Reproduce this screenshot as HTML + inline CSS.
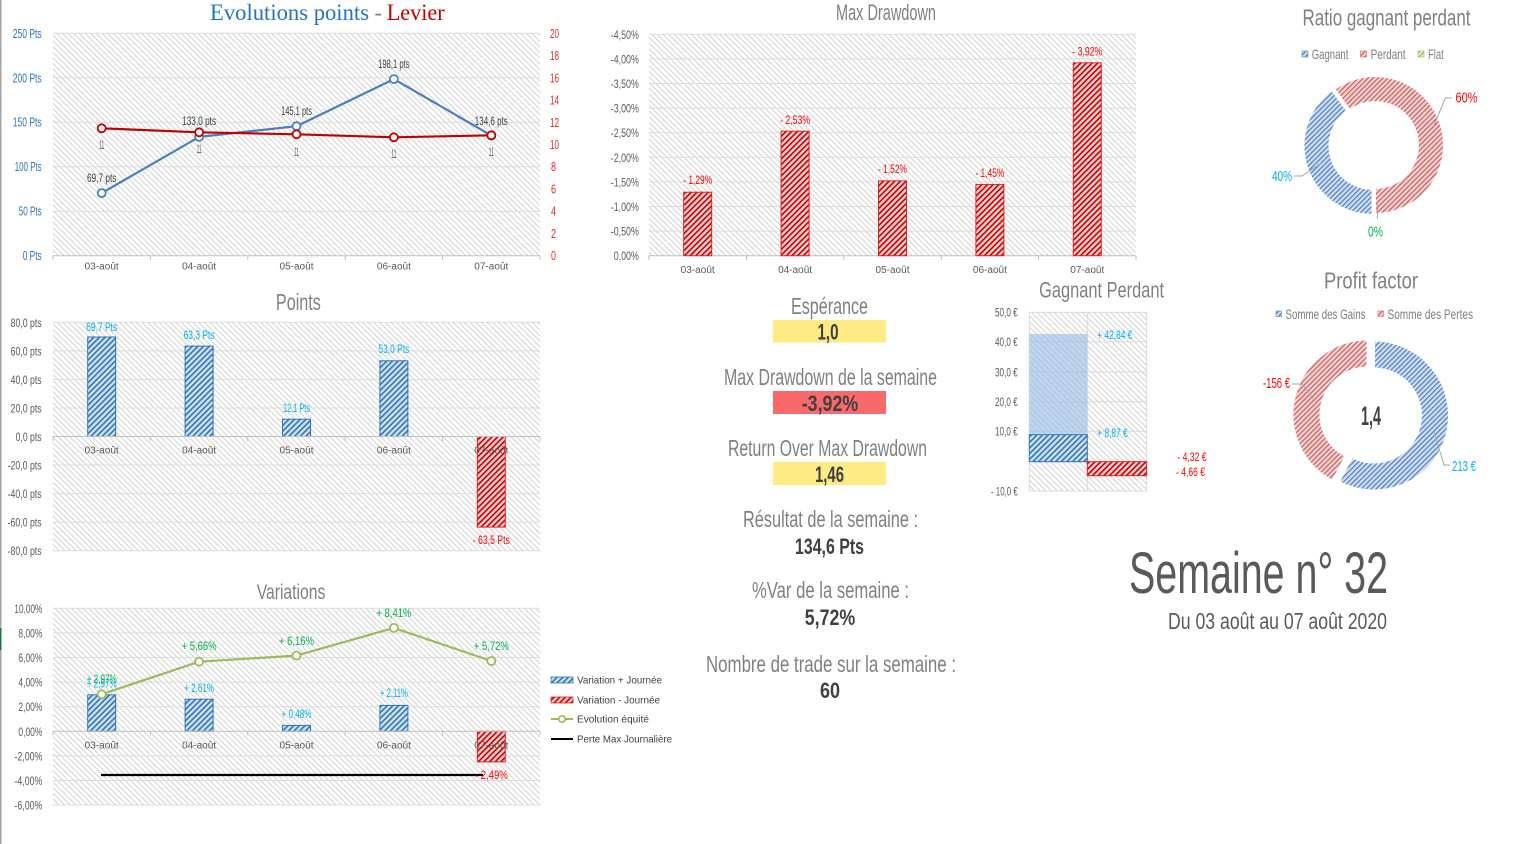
<!DOCTYPE html>
<html><head><meta charset="utf-8"><style>
body{margin:0;background:#fff}
svg{display:block}
text{font-family:"Liberation Sans Narrow","Liberation Sans",sans-serif}
.c{font-family:"Liberation Sans",sans-serif}
.s{font-family:"Liberation Serif",serif}
</style></head><body>
<svg width="1527" height="844" viewBox="0 0 1527 844" xmlns="http://www.w3.org/2000/svg">
<defs>
<pattern id="bg" width="4" height="4" patternUnits="userSpaceOnUse" patternTransform="rotate(-45)"><rect width="4" height="4" fill="#fff"/><rect width="1" height="4" fill="#d2d2d2"/></pattern>
<pattern id="pb" width="4" height="4" patternUnits="userSpaceOnUse" patternTransform="rotate(45)"><rect width="4" height="4" fill="#cfe1f4"/><rect width="1.6" height="4" fill="#2e75b6"/></pattern>
<pattern id="pr" width="4" height="4" patternUnits="userSpaceOnUse" patternTransform="rotate(45)"><rect width="4" height="4" fill="#f6cfcf"/><rect width="1.6" height="4" fill="#c00000"/></pattern>
<pattern id="db" width="3.5" height="3.5" patternUnits="userSpaceOnUse" patternTransform="rotate(45)"><rect width="3.5" height="3.5" fill="#d3dff1"/><rect width="1.3" height="3.5" fill="#5483c6"/></pattern>
<pattern id="dr" width="3.5" height="3.5" patternUnits="userSpaceOnUse" patternTransform="rotate(45)"><rect width="3.5" height="3.5" fill="#f2d6d6"/><rect width="1.3" height="3.5" fill="#cc6262"/></pattern>
<pattern id="dg" width="3.5" height="3.5" patternUnits="userSpaceOnUse" patternTransform="rotate(45)"><rect width="3.5" height="3.5" fill="#e6efd6"/><rect width="1.3" height="3.5" fill="#9bbb59"/></pattern>
</defs>

<!-- left border -->
<rect x="0" y="0" width="1.5" height="844" fill="#a6a6a6"/>
<rect x="0" y="628" width="1.5" height="22" fill="#217346"/>

<!-- ========== Chart 1 : Evolutions points - Levier ========== -->
<text class="s" x="210" y="20" font-size="23" fill="#2373c4" textLength="159" lengthAdjust="spacingAndGlyphs">Evolutions points</text>
<text class="s" x="374.5" y="20" font-size="23" fill="#7f7f7f" textLength="7.5" lengthAdjust="spacingAndGlyphs">-</text>
<text class="s" x="386.7" y="20" font-size="23" fill="#c00000" textLength="58" lengthAdjust="spacingAndGlyphs">Levier</text>

<rect x="53" y="33.3" width="487" height="222.4" fill="url(#bg)"/>
<g stroke="#dcdcdc" stroke-width="1">
<line x1="53" y1="33.3" x2="540" y2="33.3"/><line x1="53" y1="77.8" x2="540" y2="77.8"/><line x1="53" y1="122.2" x2="540" y2="122.2"/><line x1="53" y1="166.7" x2="540" y2="166.7"/><line x1="53" y1="211.2" x2="540" y2="211.2"/>
</g>
<g stroke="#bfbfbf" stroke-width="1">
<line x1="53" y1="255.7" x2="540" y2="255.7"/>
<line x1="53" y1="255.7" x2="53" y2="260"/><line x1="150.4" y1="255.7" x2="150.4" y2="260"/><line x1="247.8" y1="255.7" x2="247.8" y2="260"/><line x1="345.2" y1="255.7" x2="345.2" y2="260"/><line x1="442.6" y1="255.7" x2="442.6" y2="260"/><line x1="540" y1="255.7" x2="540" y2="260"/>
</g>
<g font-size="12.5" fill="#2e75b6" text-anchor="end">
<text x="41.7" y="37.8" textLength="29" lengthAdjust="spacingAndGlyphs">250 Pts</text>
<text x="41.7" y="82.3" textLength="29" lengthAdjust="spacingAndGlyphs">200 Pts</text>
<text x="41.7" y="126.7" textLength="29" lengthAdjust="spacingAndGlyphs">150 Pts</text>
<text x="41.7" y="171.2" textLength="27" lengthAdjust="spacingAndGlyphs">100 Pts</text>
<text x="41.7" y="215.7" textLength="23" lengthAdjust="spacingAndGlyphs">50 Pts</text>
<text x="41.7" y="260.2" textLength="19" lengthAdjust="spacingAndGlyphs">0 Pts</text>
</g>
<g font-size="12.5" fill="#e02b2b">
<text x="550" y="37.8" textLength="9" lengthAdjust="spacingAndGlyphs">20</text>
<text x="550" y="60" textLength="9" lengthAdjust="spacingAndGlyphs">18</text>
<text x="550" y="82.3" textLength="9" lengthAdjust="spacingAndGlyphs">16</text>
<text x="550" y="104.5" textLength="9" lengthAdjust="spacingAndGlyphs">14</text>
<text x="550" y="126.8" textLength="9" lengthAdjust="spacingAndGlyphs">12</text>
<text x="550" y="149" textLength="9" lengthAdjust="spacingAndGlyphs">10</text>
<text x="551" y="171.2" textLength="5" lengthAdjust="spacingAndGlyphs">8</text>
<text x="551" y="193.5" textLength="5" lengthAdjust="spacingAndGlyphs">6</text>
<text x="551" y="215.7" textLength="5" lengthAdjust="spacingAndGlyphs">4</text>
<text x="551" y="238" textLength="5" lengthAdjust="spacingAndGlyphs">2</text>
<text x="551" y="260.2" textLength="5" lengthAdjust="spacingAndGlyphs">0</text>
</g>
<polyline points="101.7,193.1 199.1,136.9 296.5,126.2 393.9,79.1 491.3,135.5" fill="none" stroke="#4a7ebf" stroke-width="2.2" stroke-linejoin="round"/>
<g fill="#fff" stroke="#4a7ebf" stroke-width="1.8">
<circle cx="101.7" cy="193.1" r="4"/><circle cx="199.1" cy="136.9" r="4"/><circle cx="296.5" cy="126.2" r="4"/><circle cx="393.9" cy="79.1" r="4"/><circle cx="491.3" cy="135.5" r="4"/>
</g>
<polyline points="101.7,128.3 199.1,132.3 296.5,134.3 393.9,137.3 491.3,135.3" fill="none" stroke="#c00000" stroke-width="2.2" stroke-linejoin="round"/>
<g fill="#fff" stroke="#c00000" stroke-width="1.8">
<circle cx="101.7" cy="128.3" r="4"/><circle cx="199.1" cy="132.3" r="4"/><circle cx="296.5" cy="134.3" r="4"/><circle cx="393.9" cy="137.3" r="4"/><circle cx="491.3" cy="135.3" r="4"/>
</g>
<g font-size="12" fill="#595959" text-anchor="middle">
<text x="101.7" y="149" textLength="5" lengthAdjust="spacingAndGlyphs">11</text>
<text x="199.1" y="153" textLength="5" lengthAdjust="spacingAndGlyphs">11</text>
<text x="296.5" y="156" textLength="5" lengthAdjust="spacingAndGlyphs">11</text>
<text x="393.9" y="158" textLength="5" lengthAdjust="spacingAndGlyphs">11</text>
<text x="491.3" y="156" textLength="5" lengthAdjust="spacingAndGlyphs">11</text>
</g>
<g font-size="11.5" fill="#404040" text-anchor="middle">
<text x="101.7" y="182" textLength="29.5" lengthAdjust="spacingAndGlyphs">69,7 pts</text>
<text x="199.1" y="125" textLength="34" lengthAdjust="spacingAndGlyphs">133,0 pts</text>
<text x="296.5" y="115" textLength="31" lengthAdjust="spacingAndGlyphs">145,1 pts</text>
<text x="393.9" y="68" textLength="31.5" lengthAdjust="spacingAndGlyphs">198,1 pts</text>
<text x="491.3" y="125" textLength="33" lengthAdjust="spacingAndGlyphs">134,6 pts</text>
</g>
<g class="c" font-size="10" fill="#595959" text-anchor="middle">
<text class="c" x="101.7" y="269.3" textLength="34" lengthAdjust="spacingAndGlyphs">03-août</text>
<text class="c" x="199.1" y="269.3" textLength="34" lengthAdjust="spacingAndGlyphs">04-août</text>
<text class="c" x="296.5" y="269.3" textLength="34" lengthAdjust="spacingAndGlyphs">05-août</text>
<text class="c" x="393.9" y="269.3" textLength="34" lengthAdjust="spacingAndGlyphs">06-août</text>
<text class="c" x="491.3" y="269.3" textLength="34" lengthAdjust="spacingAndGlyphs">07-août</text>
</g>

<!-- ========== Chart 2 : Max Drawdown ========== -->
<text x="886" y="20" font-size="22" fill="#808080" text-anchor="middle" textLength="100" lengthAdjust="spacingAndGlyphs">Max Drawdown</text>
<rect x="649" y="34.3" width="487" height="221.4" fill="url(#bg)"/>
<g stroke="#dcdcdc" stroke-width="1">
<line x1="649" y1="34.3" x2="1136" y2="34.3"/><line x1="649" y1="58.9" x2="1136" y2="58.9"/><line x1="649" y1="83.5" x2="1136" y2="83.5"/><line x1="649" y1="108.1" x2="1136" y2="108.1"/><line x1="649" y1="132.7" x2="1136" y2="132.7"/><line x1="649" y1="157.3" x2="1136" y2="157.3"/><line x1="649" y1="181.9" x2="1136" y2="181.9"/><line x1="649" y1="206.5" x2="1136" y2="206.5"/><line x1="649" y1="231.1" x2="1136" y2="231.1"/>
</g>
<g stroke="#bfbfbf" stroke-width="1">
<line x1="649" y1="255.7" x2="1136" y2="255.7"/>
<line x1="649" y1="255.7" x2="649" y2="260"/><line x1="746.4" y1="255.7" x2="746.4" y2="260"/><line x1="843.8" y1="255.7" x2="843.8" y2="260"/><line x1="941.2" y1="255.7" x2="941.2" y2="260"/><line x1="1038.6" y1="255.7" x2="1038.6" y2="260"/><line x1="1136" y1="255.7" x2="1136" y2="260"/>
</g>
<g font-size="11.5" fill="#595959" text-anchor="end">
<text x="638.8" y="38.8" textLength="28" lengthAdjust="spacingAndGlyphs">-4,50%</text>
<text x="638.8" y="63.4" textLength="28" lengthAdjust="spacingAndGlyphs">-4,00%</text>
<text x="638.8" y="88" textLength="28" lengthAdjust="spacingAndGlyphs">-3,50%</text>
<text x="638.8" y="112.6" textLength="28" lengthAdjust="spacingAndGlyphs">-3,00%</text>
<text x="638.8" y="137.2" textLength="28" lengthAdjust="spacingAndGlyphs">-2,50%</text>
<text x="638.8" y="161.8" textLength="28" lengthAdjust="spacingAndGlyphs">-2,00%</text>
<text x="638.8" y="186.4" textLength="28" lengthAdjust="spacingAndGlyphs">-1,50%</text>
<text x="638.8" y="211" textLength="28" lengthAdjust="spacingAndGlyphs">-1,00%</text>
<text x="638.8" y="235.6" textLength="28" lengthAdjust="spacingAndGlyphs">-0,50%</text>
<text x="638.8" y="260.2" textLength="25" lengthAdjust="spacingAndGlyphs">0,00%</text>
</g>
<g fill="url(#pr)" stroke="#e02020" stroke-width="1">
<rect x="683.7" y="192.2" width="28" height="63.5"/>
<rect x="781.1" y="131.2" width="28" height="124.5"/>
<rect x="878.5" y="180.9" width="28" height="74.8"/>
<rect x="975.9" y="184.4" width="28" height="71.3"/>
<rect x="1073.3" y="62.8" width="28" height="192.9"/>
</g>
<g font-size="11.5" fill="#ff0000" text-anchor="middle">
<text x="697.7" y="184" textLength="29" lengthAdjust="spacingAndGlyphs">- 1,29%</text>
<text x="795.1" y="124" textLength="30" lengthAdjust="spacingAndGlyphs">- 2,53%</text>
<text x="892.5" y="173" textLength="29" lengthAdjust="spacingAndGlyphs">- 1,52%</text>
<text x="989.9" y="177" textLength="29" lengthAdjust="spacingAndGlyphs">- 1,45%</text>
<text x="1087.3" y="55.6" textLength="30" lengthAdjust="spacingAndGlyphs">- 3,92%</text>
</g>
<g font-size="10" fill="#595959" text-anchor="middle">
<text class="c" x="697.7" y="273" textLength="34" lengthAdjust="spacingAndGlyphs">03-août</text>
<text class="c" x="795.1" y="273" textLength="34" lengthAdjust="spacingAndGlyphs">04-août</text>
<text class="c" x="892.5" y="273" textLength="34" lengthAdjust="spacingAndGlyphs">05-août</text>
<text class="c" x="989.9" y="273" textLength="34" lengthAdjust="spacingAndGlyphs">06-août</text>
<text class="c" x="1087.3" y="273" textLength="34" lengthAdjust="spacingAndGlyphs">07-août</text>
</g>

<!-- ========== Chart 3 : Ratio gagnant perdant ========== -->
<text x="1386.5" y="25.3" font-size="23" fill="#808080" text-anchor="middle" textLength="168" lengthAdjust="spacingAndGlyphs">Ratio gagnant perdant</text>
<rect x="1302" y="51" width="6" height="6" fill="url(#db)" stroke="#5b87c9" stroke-width="0.6"/>
<text x="1311.7" y="59" font-size="14" fill="#7f7f7f" textLength="36.7" lengthAdjust="spacingAndGlyphs">Gagnant</text>
<rect x="1360.5" y="51" width="6" height="6" fill="url(#dr)" stroke="#cf6b6b" stroke-width="0.6"/>
<text x="1370.6" y="59" font-size="14" fill="#7f7f7f" textLength="35" lengthAdjust="spacingAndGlyphs">Perdant</text>
<rect x="1418" y="51" width="6" height="6" fill="url(#dg)" stroke="#9bbb59" stroke-width="0.6"/>
<text x="1428" y="59" font-size="14" fill="#7f7f7f" textLength="15.8" lengthAdjust="spacingAndGlyphs">Flat</text>

<path d="M1375,214 A69,69 0 0 1 1334.44,89.18 L1349.72,110.21 A43,43 0 0 0 1375,188 Z" transform="translate(-2.5,0.8)" fill="url(#db)" stroke="#fff" stroke-width="2"/>
<path d="M1334.44,89.18 A69,69 0 1 1 1375,214 L1375,188 A43,43 0 1 0 1349.72,110.21 Z" fill="url(#dr)" stroke="#fff" stroke-width="2"/>
<g fill="none" stroke="#a6a6a6" stroke-width="1">
<polyline points="1433.6,126 1445.4,98 1452,98"/>
<polyline points="1294,176 1302,176 1320.8,163.3"/>
<line x1="1377.4" y1="202" x2="1377.4" y2="219"/>
</g>
<text x="1455.5" y="102.7" font-size="14.5" fill="#ff0000" textLength="22" lengthAdjust="spacingAndGlyphs">60%</text>
<text x="1272" y="181" font-size="14.5" fill="#00b0f0" textLength="20" lengthAdjust="spacingAndGlyphs">40%</text>
<text x="1368" y="236.4" font-size="14.5" fill="#00b050" textLength="15" lengthAdjust="spacingAndGlyphs">0%</text>

<!-- ========== Chart 4 : Profit factor ========== -->
<text x="1371" y="288.7" font-size="23" fill="#808080" text-anchor="middle" textLength="94" lengthAdjust="spacingAndGlyphs">Profit factor</text>
<rect x="1276" y="311" width="5.5" height="5.5" fill="url(#db)" stroke="#5b87c9" stroke-width="0.6"/>
<text x="1285.5" y="319" font-size="14" fill="#7f7f7f" textLength="80" lengthAdjust="spacingAndGlyphs">Somme des Gains</text>
<rect x="1378" y="311" width="5.5" height="5.5" fill="url(#dr)" stroke="#cf6b6b" stroke-width="0.6"/>
<text x="1387.5" y="319" font-size="14" fill="#7f7f7f" textLength="85.5" lengthAdjust="spacingAndGlyphs">Somme des Pertes</text>

<path d="M1371,340.5 A75,75 0 1 1 1336.02,481.85 L1349.08,457.08 A47,47 0 1 0 1371,368.5 Z" transform="translate(3,0)" fill="url(#db)" stroke="#fff" stroke-width="2"/>
<path d="M1336.02,481.85 A75,75 0 0 1 1371,340.5 L1371,368.5 A47,47 0 0 0 1349.08,457.08 Z" transform="translate(-3.5,-1)" fill="url(#dr)" stroke="#fff" stroke-width="2"/>
<text x="1371" y="425" font-size="27" font-weight="bold" fill="#404040" text-anchor="middle" textLength="20" lengthAdjust="spacingAndGlyphs">1,4</text>
<g fill="none" stroke="#a6a6a6" stroke-width="1">
<polyline points="1292,384 1302,384 1313,399"/>
<polyline points="1450,465 1444,465 1434,432"/>
</g>
<text x="1263" y="388" font-size="14.5" fill="#ff0000" textLength="27" lengthAdjust="spacingAndGlyphs">-156 €</text>
<text x="1452" y="471" font-size="14.5" fill="#00b0f0" textLength="24" lengthAdjust="spacingAndGlyphs">213 €</text>

<!-- ========== Gagnant Perdant ========== -->
<text x="1101.6" y="297.3" font-size="22" fill="#808080" text-anchor="middle" textLength="125" lengthAdjust="spacingAndGlyphs">Gagnant Perdant</text>
<rect x="1029.3" y="312.3" width="117.4" height="178.7" fill="url(#bg)"/>
<g stroke="#d9d9d9" stroke-width="1" fill="none">
<rect x="1029.3" y="312.3" width="117.4" height="178.7"/>
<line x1="1029.3" y1="341.7" x2="1146.7" y2="341.7"/><line x1="1029.3" y1="372" x2="1146.7" y2="372"/><line x1="1029.3" y1="401.7" x2="1146.7" y2="401.7"/><line x1="1029.3" y1="431.3" x2="1146.7" y2="431.3"/><line x1="1029.3" y1="461.7" x2="1146.7" y2="461.7"/>
<line x1="1087.3" y1="312.3" x2="1087.3" y2="491"/>
</g>
<rect x="1029.3" y="334" width="58" height="127.7" fill="#9dc3e6" opacity="0.68"/>
<rect x="1029.3" y="434.7" width="58" height="27" fill="url(#pb)" stroke="#2e75b6" stroke-width="1"/>
<rect x="1087.3" y="461.7" width="59.4" height="14" fill="url(#pr)" stroke="#e02020" stroke-width="1"/>
<g font-size="11.5" fill="#595959" text-anchor="end">
<text x="1017.7" y="316.7" textLength="22.7" lengthAdjust="spacingAndGlyphs">50,0 €</text>
<text x="1017.7" y="346" textLength="22.7" lengthAdjust="spacingAndGlyphs">40,0 €</text>
<text x="1017.7" y="376.4" textLength="22.7" lengthAdjust="spacingAndGlyphs">30,0 €</text>
<text x="1017.7" y="406" textLength="22.7" lengthAdjust="spacingAndGlyphs">20,0 €</text>
<text x="1017.7" y="435.7" textLength="22.7" lengthAdjust="spacingAndGlyphs">10,0 €</text>
<text x="1017.7" y="495.7" textLength="26.7" lengthAdjust="spacingAndGlyphs">- 10,0 €</text>
</g>
<g font-size="11.5">
<text x="1097.3" y="339" fill="#00b0f0" textLength="35" lengthAdjust="spacingAndGlyphs">+ 42,84 €</text>
<text x="1097.3" y="437" fill="#00b0f0" textLength="30.3" lengthAdjust="spacingAndGlyphs">+ 8,87 €</text>
<text x="1177.3" y="461" fill="#ff0000" textLength="29.3" lengthAdjust="spacingAndGlyphs">- 4,32 €</text>
<text x="1176" y="476" fill="#ff0000" textLength="29" lengthAdjust="spacingAndGlyphs">- 4,66 €</text>
</g>

<!-- ========== Points ========== -->
<text x="298.4" y="310" font-size="23" fill="#808080" text-anchor="middle" textLength="45" lengthAdjust="spacingAndGlyphs">Points</text>
<rect x="53" y="322.3" width="487" height="228.4" fill="url(#bg)"/>
<g stroke="#dcdcdc" stroke-width="1">
<line x1="53" y1="322.3" x2="540" y2="322.3"/><line x1="53" y1="350.85" x2="540" y2="350.85"/><line x1="53" y1="379.4" x2="540" y2="379.4"/><line x1="53" y1="407.95" x2="540" y2="407.95"/><line x1="53" y1="465.05" x2="540" y2="465.05"/><line x1="53" y1="493.6" x2="540" y2="493.6"/><line x1="53" y1="522.15" x2="540" y2="522.15"/><line x1="53" y1="550.7" x2="540" y2="550.7"/>
</g>
<g font-size="11.5" fill="#595959" text-anchor="end">
<text x="41.6" y="326.8" textLength="31" lengthAdjust="spacingAndGlyphs">80,0 pts</text>
<text x="41.6" y="355.3" textLength="31" lengthAdjust="spacingAndGlyphs">60,0 pts</text>
<text x="41.6" y="383.9" textLength="31" lengthAdjust="spacingAndGlyphs">40,0 pts</text>
<text x="41.6" y="412.4" textLength="31" lengthAdjust="spacingAndGlyphs">20,0 pts</text>
<text x="41.6" y="441" textLength="26" lengthAdjust="spacingAndGlyphs">0,0 pts</text>
<text x="41.6" y="469.5" textLength="34" lengthAdjust="spacingAndGlyphs">-20,0 pts</text>
<text x="41.6" y="498.1" textLength="34" lengthAdjust="spacingAndGlyphs">-40,0 pts</text>
<text x="41.6" y="526.6" textLength="34" lengthAdjust="spacingAndGlyphs">-60,0 pts</text>
<text x="41.6" y="555.2" textLength="34" lengthAdjust="spacingAndGlyphs">-80,0 pts</text>
</g>
<g fill="url(#pb)" stroke="#2e75b6" stroke-width="1">
<rect x="87.7" y="337" width="28" height="99.5"/>
<rect x="185.1" y="346.1" width="28" height="90.4"/>
<rect x="282.5" y="419.2" width="28" height="17.3"/>
<rect x="379.9" y="360.8" width="28" height="75.7"/>
</g>
<rect x="477.3" y="436.5" width="28" height="90.6" fill="url(#pr)" stroke="#e02020" stroke-width="1"/>
<g stroke="#bfbfbf" stroke-width="1">
<line x1="53" y1="436.5" x2="540" y2="436.5"/>
<line x1="53" y1="436.5" x2="53" y2="441"/><line x1="150.4" y1="436.5" x2="150.4" y2="441"/><line x1="247.8" y1="436.5" x2="247.8" y2="441"/><line x1="345.2" y1="436.5" x2="345.2" y2="441"/><line x1="442.6" y1="436.5" x2="442.6" y2="441"/><line x1="540" y1="436.5" x2="540" y2="441"/>
</g>
<g font-size="11.5" fill="#00b0f0" text-anchor="middle">
<text x="101.7" y="331" textLength="31" lengthAdjust="spacingAndGlyphs">69,7 Pts</text>
<text x="199.1" y="339" textLength="31" lengthAdjust="spacingAndGlyphs">63,3 Pts</text>
<text x="296.5" y="412" textLength="27" lengthAdjust="spacingAndGlyphs">12,1 Pts</text>
<text x="393.9" y="353" textLength="31" lengthAdjust="spacingAndGlyphs">53,0 Pts</text>
</g>
<text x="491.3" y="544" font-size="11.5" fill="#ff0000" text-anchor="middle" textLength="37" lengthAdjust="spacingAndGlyphs">- 63,5 Pts</text>
<g font-size="10" fill="#595959" text-anchor="middle">
<text class="c" x="101.7" y="453.3" textLength="34" lengthAdjust="spacingAndGlyphs">03-août</text>
<text class="c" x="199.1" y="453.3" textLength="34" lengthAdjust="spacingAndGlyphs">04-août</text>
<text class="c" x="296.5" y="453.3" textLength="34" lengthAdjust="spacingAndGlyphs">05-août</text>
<text class="c" x="393.9" y="453.3" textLength="34" lengthAdjust="spacingAndGlyphs">06-août</text>
<text class="c" x="491.3" y="453.3" textLength="34" lengthAdjust="spacingAndGlyphs">07-août</text>
</g>

<!-- ========== Variations ========== -->
<text x="291" y="599" font-size="21" fill="#808080" text-anchor="middle" textLength="68.6" lengthAdjust="spacingAndGlyphs">Variations</text>
<rect x="53" y="608.3" width="487" height="196.7" fill="url(#bg)"/>
<g stroke="#dcdcdc" stroke-width="1">
<line x1="53" y1="608.3" x2="540" y2="608.3"/><line x1="53" y1="632.9" x2="540" y2="632.9"/><line x1="53" y1="657.5" x2="540" y2="657.5"/><line x1="53" y1="682.1" x2="540" y2="682.1"/><line x1="53" y1="706.7" x2="540" y2="706.7"/><line x1="53" y1="755.9" x2="540" y2="755.9"/><line x1="53" y1="780.5" x2="540" y2="780.5"/><line x1="53" y1="805" x2="540" y2="805"/>
</g>
<g font-size="11.5" fill="#595959" text-anchor="end">
<text x="42.4" y="612.8" textLength="28" lengthAdjust="spacingAndGlyphs">10,00%</text>
<text x="42.4" y="637.4" textLength="24" lengthAdjust="spacingAndGlyphs">8,00%</text>
<text x="42.4" y="662" textLength="24" lengthAdjust="spacingAndGlyphs">6,00%</text>
<text x="42.4" y="686.6" textLength="24" lengthAdjust="spacingAndGlyphs">4,00%</text>
<text x="42.4" y="711.2" textLength="24" lengthAdjust="spacingAndGlyphs">2,00%</text>
<text x="42.4" y="735.8" textLength="24" lengthAdjust="spacingAndGlyphs">0,00%</text>
<text x="42.4" y="760.4" textLength="28" lengthAdjust="spacingAndGlyphs">-2,00%</text>
<text x="42.4" y="785" textLength="28" lengthAdjust="spacingAndGlyphs">-4,00%</text>
<text x="42.4" y="809.5" textLength="28" lengthAdjust="spacingAndGlyphs">-6,00%</text>
</g>
<g fill="url(#pb)" stroke="#2e75b6" stroke-width="1">
<rect x="87.7" y="694.8" width="28" height="36.5"/>
<rect x="185.1" y="699.2" width="28" height="32.1"/>
<rect x="282.5" y="725.4" width="28" height="5.9"/>
<rect x="379.9" y="705.4" width="28" height="25.9"/>
</g>
<rect x="477.3" y="731.3" width="28" height="30.6" fill="url(#pr)" stroke="#e02020" stroke-width="1"/>
<g stroke="#bfbfbf" stroke-width="1">
<line x1="53" y1="731.3" x2="540" y2="731.3"/>
<line x1="53" y1="731.3" x2="53" y2="735.5"/><line x1="150.4" y1="731.3" x2="150.4" y2="735.5"/><line x1="247.8" y1="731.3" x2="247.8" y2="735.5"/><line x1="345.2" y1="731.3" x2="345.2" y2="735.5"/><line x1="442.6" y1="731.3" x2="442.6" y2="735.5"/><line x1="540" y1="731.3" x2="540" y2="735.5"/>
</g>
<line x1="101" y1="775" x2="483" y2="775" stroke="#000" stroke-width="2.2"/>
<polyline points="101.7,694.3 199.1,661.7 296.5,655.6 393.9,627.9 491.3,661" fill="none" stroke="#9bbb59" stroke-width="2.2" stroke-linejoin="round"/>
<g fill="#fff" stroke="#9bbb59" stroke-width="1.8">
<circle cx="101.7" cy="694.3" r="4"/><circle cx="199.1" cy="661.7" r="4"/><circle cx="296.5" cy="655.6" r="4"/><circle cx="393.9" cy="627.9" r="4"/><circle cx="491.3" cy="661" r="4"/>
</g>
<g font-size="11.5" fill="#00b0f0" text-anchor="middle">
<text x="101.7" y="687.7" textLength="30" lengthAdjust="spacingAndGlyphs">+ 2,97%</text>
<text x="199.1" y="692" textLength="30" lengthAdjust="spacingAndGlyphs">+ 2,61%</text>
<text x="296.5" y="718" textLength="30" lengthAdjust="spacingAndGlyphs">+ 0,48%</text>
<text x="393.9" y="697" textLength="28" lengthAdjust="spacingAndGlyphs">+ 2,11%</text>
</g>
<g font-size="11.5" fill="#00b050" text-anchor="middle">
<text x="101.7" y="683" textLength="30" lengthAdjust="spacingAndGlyphs">+ 2,97%</text>
<text x="199.1" y="650" textLength="35" lengthAdjust="spacingAndGlyphs">+ 5,66%</text>
<text x="296.5" y="645" textLength="35" lengthAdjust="spacingAndGlyphs">+ 6,16%</text>
<text x="393.9" y="617" textLength="35" lengthAdjust="spacingAndGlyphs">+ 8,41%</text>
<text x="491.3" y="650" textLength="35" lengthAdjust="spacingAndGlyphs">+ 5,72%</text>
</g>
<text x="491.3" y="779" font-size="11.5" fill="#ff0000" text-anchor="middle" textLength="33" lengthAdjust="spacingAndGlyphs">- 2,49%</text>
<g font-size="10" fill="#595959" text-anchor="middle">
<text class="c" x="101.7" y="748.3" textLength="34" lengthAdjust="spacingAndGlyphs">03-août</text>
<text class="c" x="199.1" y="748.3" textLength="34" lengthAdjust="spacingAndGlyphs">04-août</text>
<text class="c" x="296.5" y="748.3" textLength="34" lengthAdjust="spacingAndGlyphs">05-août</text>
<text class="c" x="393.9" y="748.3" textLength="34" lengthAdjust="spacingAndGlyphs">06-août</text>
<text class="c" x="491.3" y="748.3" textLength="34" lengthAdjust="spacingAndGlyphs">07-août</text>
</g>
<!-- legend -->
<rect x="551" y="677" width="22" height="6" fill="url(#pb)" stroke="#2e75b6" stroke-width="0.8"/>
<rect x="551" y="697" width="22" height="6" fill="url(#pr)" stroke="#e02020" stroke-width="0.8"/>
<line x1="551" y1="719" x2="573" y2="719" stroke="#9bbb59" stroke-width="2"/>
<circle cx="562" cy="719" r="3.2" fill="#fff" stroke="#9bbb59" stroke-width="1.6"/>
<line x1="551" y1="739" x2="573" y2="739" stroke="#000" stroke-width="2"/>
<g font-size="10" fill="#404040">
<text class="c" x="577" y="683.5" textLength="85" lengthAdjust="spacingAndGlyphs">Variation + Journée</text>
<text class="c" x="577" y="703.5" textLength="83" lengthAdjust="spacingAndGlyphs">Variation - Journée</text>
<text class="c" x="577" y="722.5" textLength="72" lengthAdjust="spacingAndGlyphs">Evolution équité</text>
<text class="c" x="577" y="742.5" textLength="95" lengthAdjust="spacingAndGlyphs">Perte Max Journalière</text>
</g>

<!-- ========== Middle KPI block ========== -->
<rect x="773" y="320" width="113" height="22.5" fill="#ffeb84"/>
<rect x="773" y="391" width="113" height="23" fill="#f8696b"/>
<rect x="773" y="462" width="113" height="23" fill="#ffeb84"/>
<g font-size="23" fill="#808080" text-anchor="middle">
<text x="829.5" y="314" textLength="77" lengthAdjust="spacingAndGlyphs">Espérance</text>
<text x="830.5" y="385" textLength="213" lengthAdjust="spacingAndGlyphs">Max Drawdown de la semaine</text>
<text x="827.5" y="456" textLength="199" lengthAdjust="spacingAndGlyphs">Return Over Max Drawdown</text>
<text x="830.5" y="527" textLength="175" lengthAdjust="spacingAndGlyphs">Résultat de la semaine :</text>
<text x="830.5" y="598" textLength="157" lengthAdjust="spacingAndGlyphs">%Var de la semaine :</text>
<text x="831" y="672" textLength="250" lengthAdjust="spacingAndGlyphs">Nombre de trade sur la semaine :</text>
</g>
<g font-size="22" font-weight="bold" fill="#404040" text-anchor="middle">
<text x="828" y="339.5" textLength="21" lengthAdjust="spacingAndGlyphs">1,0</text>
<text x="830" y="411" textLength="56.5" lengthAdjust="spacingAndGlyphs">-3,92%</text>
<text x="829.5" y="482" textLength="29" lengthAdjust="spacingAndGlyphs">1,46</text>
<text x="829.5" y="554" textLength="69" lengthAdjust="spacingAndGlyphs">134,6 Pts</text>
<text x="830" y="625" textLength="50.5" lengthAdjust="spacingAndGlyphs">5,72%</text>
<text x="830" y="698" textLength="20" lengthAdjust="spacingAndGlyphs">60</text>
</g>

<!-- ========== Semaine ========== -->
<text x="1129" y="593" font-size="58" fill="#595959" textLength="259" lengthAdjust="spacingAndGlyphs">Semaine n° 32</text>
<text x="1168" y="629" font-size="23" fill="#595959" textLength="219" lengthAdjust="spacingAndGlyphs">Du 03 août au  07 août 2020</text>
</svg>
</body></html>
